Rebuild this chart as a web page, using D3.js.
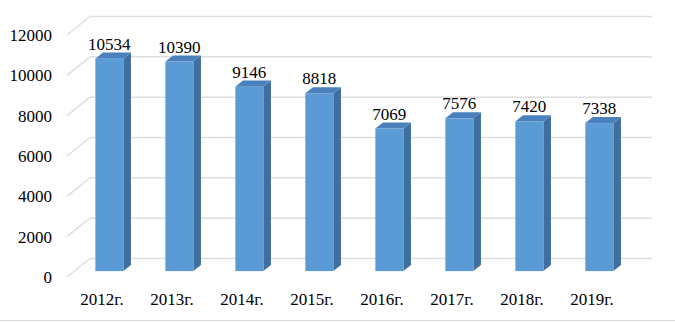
<!DOCTYPE html>
<html>
<head>
<meta charset="utf-8">
<script src="https://cdn.jsdelivr.net/npm/d3@7"></script>
</head>
<body style="margin:0">
<svg width="675" height="322"></svg>
<script>
var years = ["2012г.","2013г.","2014г.","2015г.","2016г.","2017г.","2018г.","2019г."];
var values = [10534, 10390, 9146, 8818, 7069, 7576, 7420, 7338];
var ticks = [0, 2000, 4000, 6000, 8000, 10000, 12000];

var svg = d3.select("svg");

// 3d projection: depth vector of the whole chart box
var depthX = 23, depthY = -18.5;
var barT0 = 0.32, barT1 = 0.65;

var xScale = d3.scaleBand().domain(years).range([67, 627]).paddingInner(0.6).paddingOuter(0.3);
var yScale = d3.scaleLinear().domain([0, 12000]).range([277, 35]);

// back wall + left wall gridlines
var grid = svg.append("g");
ticks.forEach(function(t) {
  var y = yScale(t);
  grid.append("line")
    .attr("x1", 67).attr("y1", y)
    .attr("x2", 67 + depthX).attr("y2", y + depthY)
    .attr("stroke", "#dedede").attr("stroke-width", 1.5);
  grid.append("line")
    .attr("x1", 67 + depthX).attr("y1", y + depthY)
    .attr("x2", 627 + depthX + 2).attr("y2", y + depthY)
    .attr("stroke", "#dedede").attr("stroke-width", 1.5);
});

// bars
var bw = xScale.bandwidth();
var ox = depthX * barT0, oy = depthY * barT0;
var dx = depthX * (barT1 - barT0), dy = depthY * (barT1 - barT0);

values.forEach(function(d, i) {
  var g = svg.append("g");
  var x0 = xScale(years[i]) + ox, x1 = x0 + bw;
  var yb = yScale(0) + oy, yt = yScale(d) + oy;
  // side face
  g.append("path")
    .attr("d", "M" + x1 + "," + yb + "L" + (x1 + dx) + "," + (yb + dy) +
               "L" + (x1 + dx) + "," + (yt + dy) + "L" + x1 + "," + yt + "Z")
    .attr("fill", "#3e6f9f");
  // top face
  g.append("path")
    .attr("d", "M" + x0 + "," + yt + "L" + (x0 + dx) + "," + (yt + dy) +
               "L" + (x1 + dx) + "," + (yt + dy) + "L" + x1 + "," + yt + "Z")
    .attr("fill", "#4a80bb");
  // front face
  g.append("rect")
    .attr("x", x0).attr("y", yt)
    .attr("width", bw).attr("height", yb - yt)
    .attr("fill", "#5b9bd5");
});

// all text drawn last, serif like the original
var labels = svg.append("g");

labels.selectAll("text.tick")
  .data(ticks).enter().append("text")
  .attr("class", "tick")
  .attr("x", 52)
  .attr("y", function(d) { return yScale(d) + 6; })
  .attr("text-anchor", "end")
  .attr("font-family", "Liberation Serif")
  .attr("font-size", 17)
  .text(function(d) { return d; });

labels.selectAll("text.value")
  .data(values).enter().append("text")
  .attr("class", "value")
  .attr("x", function(d, i) { return xScale(years[i]) + ox + bw / 2; })
  .attr("y", function(d) { return yScale(d) + oy - 9; })
  .attr("text-anchor", "middle")
  .attr("font-family", "Liberation Serif")
  .attr("font-size", 17)
  .text(function(d) { return d; });

labels.selectAll("text.cat")
  .data(years).enter().append("text")
  .attr("class", "cat")
  .attr("x", function(d) { return xScale(d) + bw / 2; })
  .attr("y", 305)
  .attr("text-anchor", "middle")
  .attr("font-family", "Liberation Serif")
  .attr("font-size", 17)
  .text(function(d) { return d; });

// frame line at the bottom
svg.append("line")
  .attr("x1", 0).attr("x2", 675)
  .attr("y1", 320.5).attr("y2", 320.5)
  .attr("stroke", "#d9d9d9").attr("stroke-width", 1);
</script>
</body>
</html>
